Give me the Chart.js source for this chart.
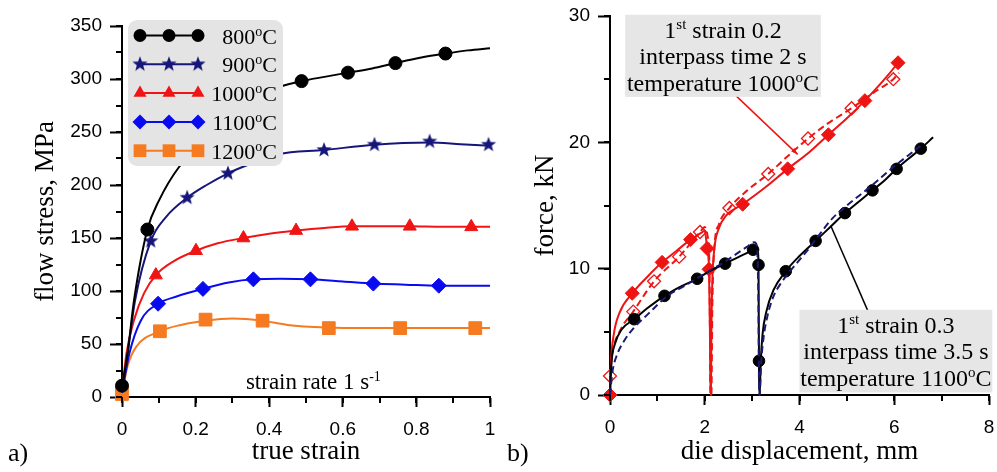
<!DOCTYPE html>
<html>
<head>
<meta charset="utf-8">
<script src="https://cdn.jsdelivr.net/npm/chart.js@4.4.1/dist/chart.umd.min.js"></script>
<style>
  html, body { margin: 0; padding: 0; background: #fff; }
  #wrap { position: relative; width: 997px; height: 472px; }
  canvas { position: absolute; top: 0; }
  #chartA { left: 0; }
  #chartB { left: 500px; }
</style>
</head>
<body>
<div id="wrap">
  <canvas id="chartA" width="500" height="472"></canvas>
  <canvas id="chartB" width="497" height="472"></canvas>
</div>
<script>
// ---------- panel a) flow stress vs true strain ----------
const tempLabels = ['800', '900', '1000', '1100', '1200'];

const strain800 = [0, 0.015, 0.033, 0.069, 0.1, 0.155, 0.25, 0.35, 0.417, 0.488, 0.55, 0.614, 0.68, 0.743, 0.81, 0.879, 0.94, 1.0];
const stress800 = [10, 41, 92, 158, 185, 217, 250, 275, 291, 298, 302, 306, 310, 315, 320, 324, 327, 329];
const marks800 = [[0, 10.7], [0.069, 158], [0.488, 298], [0.614, 306], [0.743, 315], [0.879, 324]];

const strain900 = [0, 0.015, 0.035, 0.078, 0.12, 0.177, 0.23, 0.288, 0.35, 0.425, 0.549, 0.686, 0.836, 0.92, 1.0];
const stress900 = [5, 40, 90, 147, 170, 188, 200, 211, 220, 229, 233, 238, 240, 238.5, 237];
const marks900 = [[0.078, 147], [0.177, 188], [0.288, 211], [0.549, 233], [0.686, 238], [0.836, 241], [0.996, 238]];

const strain1000 = [0, 0.012, 0.033, 0.06, 0.092, 0.14, 0.201, 0.26, 0.33, 0.4, 0.473, 0.55, 0.625, 0.7, 0.782, 0.87, 0.949, 1.0];
const stress1000 = [5, 41, 73, 98, 115, 128, 138, 145, 150, 154, 157, 159.5, 161, 161, 161, 160.5, 160.5, 160.5];
const marks1000 = [[0.092, 115], [0.201, 138], [0.33, 150], [0.473, 157], [0.625, 161], [0.782, 161], [0.949, 160.5]];

const strain1100 = [0, 0.02, 0.051, 0.098, 0.15, 0.22, 0.29, 0.357, 0.43, 0.512, 0.6, 0.683, 0.77, 0.861, 0.93, 1.0];
const stress1100 = [4, 41, 72, 88, 95, 102, 108, 111, 111.5, 111, 109, 107, 106, 105, 105, 105];
const marks1100 = [[0.098, 88], [0.22, 102], [0.357, 111], [0.512, 111], [0.683, 107], [0.861, 105]];

const strain1200 = [0, 0.015, 0.038, 0.103, 0.16, 0.227, 0.3, 0.382, 0.45, 0.562, 0.65, 0.756, 0.86, 0.96, 1.0];
const stress1200 = [3, 29, 47, 62, 68, 72, 74, 72, 68, 65.5, 65, 65, 65, 65, 65];
const marks1200 = [[0, 2.8], [0.103, 62], [0.227, 73], [0.382, 72], [0.562, 65], [0.756, 65], [0.96, 65]];

const strainTicks = [0, 0.2, 0.4, 0.6, 0.8, 1];
const stressTicks = [0, 50, 100, 150, 200, 250, 300, 350];

// ---------- panel b) force vs die displacement ----------
const disp1000 = [0, 0.02, 0.08, 0.2, 0.47, 0.8, 1.1, 1.4, 1.7, 1.95, 2.0, 2.05, 2.09, 2.11, 2.12, 2.13, 2.14, 2.16, 2.2, 2.3, 2.45, 2.8, 3.3, 3.75, 4.2, 4.61, 5.0, 5.38, 5.75, 6.08, 6.12];
const force1000 = [0, 2.5, 4.8, 6.5, 8.05, 9.4, 10.5, 11.4, 12.3, 12.9, 13.0, 11.6, 9.95, 5, 0, 0, 5, 9, 11.5, 13.2, 14.2, 15.1, 16.5, 17.9, 19.2, 20.6, 21.9, 23.3, 24.8, 26.3, 26.5];
const marks1000b = [[0, 0], [0.47, 8.05], [1.1, 10.5], [1.7, 12.3], [2.05, 11.6], [2.09, 9.95], [2.8, 15.1], [3.75, 17.9], [4.61, 20.6], [5.38, 23.3], [6.08, 26.3]];

const disp1000m = [0, 0.05, 0.2, 0.49, 0.93, 1.46, 1.9, 2.0, 2.06, 2.1, 2.12, 2.14, 2.16, 2.2, 2.3, 2.52, 2.9, 3.34, 3.75, 4.18, 4.6, 5.1, 5.55, 5.98, 6.1];
const force1000m = [1.5, 3.3, 5.0, 6.6, 9.0, 10.95, 12.9, 13.3, 12.6, 10, 0, 0, 7, 11.5, 13.5, 14.8, 16.2, 17.5, 18.9, 20.3, 21.5, 22.7, 23.9, 25.0, 25.5];
const marks1000m = [[0, 1.5], [0.49, 6.6], [0.93, 9.0], [1.46, 10.95], [1.9, 12.9], [2.52, 14.8], [3.34, 17.5], [4.18, 20.3], [5.1, 22.7], [5.98, 25.0]];

const disp1100 = [0, 0.03, 0.1, 0.25, 0.51, 0.8, 1.15, 1.5, 1.84, 2.1, 2.43, 2.7, 2.95, 3.02, 3.08, 3.12, 3.135, 3.14, 3.145, 3.15, 3.16, 3.18, 3.22, 3.3, 3.45, 3.71, 4.0, 4.34, 4.65, 4.96, 5.25, 5.54, 5.8, 6.05, 6.3, 6.56, 6.82];
const force1100 = [0, 2.5, 4.0, 5.2, 6.0, 6.9, 7.85, 8.6, 9.2, 9.8, 10.4, 10.9, 11.35, 11.5, 11.8, 11.4, 10.3, 6, 2.7, 0, 0, 2.5, 4.8, 6.6, 8.3, 9.8, 11.0, 12.2, 13.3, 14.4, 15.3, 16.2, 17.0, 17.9, 18.7, 19.5, 20.4];
const marks1100b = [[0.51, 6.0], [1.15, 7.85], [1.84, 9.2], [2.43, 10.4], [3.02, 11.5], [3.135, 10.3], [3.145, 2.7], [3.71, 9.8], [4.34, 12.2], [4.96, 14.4], [5.54, 16.2], [6.05, 17.9], [6.56, 19.5]];

const disp1100m = [0, 0.05, 0.15, 0.3, 0.5, 0.8, 1.2, 1.6, 2.0, 2.4, 2.88, 3.05, 3.1, 3.13, 3.15, 3.16, 3.19, 3.24, 3.32, 3.45, 3.6, 3.8, 4.0, 4.2, 4.4, 4.7, 5.0, 5.5, 6.0, 6.55];
const force1100m = [0, 1.8, 3.2, 4.3, 5.3, 6.4, 7.8, 8.7, 9.6, 10.5, 11.7, 12.1, 11.8, 8, 0, 0, 2.5, 4.5, 6.2, 7.8, 8.8, 9.8, 10.7, 11.6, 12.6, 14.0, 15.0, 16.5, 18.1, 19.7];

const dispTicks = [0, 2, 4, 6, 8];
const forceTicks = [0, 10, 20, 30];

const noteB1 = [[['1'], ['st', 1], [' strain 0.2']], [['interpass time 2 s']], [['temperature 1000'], ['o', 1], ['C']]];
const noteB2 = [[['1'], ['st', 1], [' strain 0.3']], [['interpass time 3.5 s']], [['temperature 1100'], ['o', 1], ['C']]];

// ---------- helpers ----------
const SERIF = '"Liberation Serif", "Times New Roman", serif';
const SANS = '"Liberation Sans", Arial, sans-serif';
Chart.defaults.color = '#000';
Chart.defaults.font.family = SANS;

const pts = (xs, ys) => xs.map((x, i) => ({ x, y: ys[i] }));
const pairs = arr => arr.map(([x, y]) => ({ x, y }));

function starImage(r, color) {
  const c = document.createElement('canvas');
  c.width = c.height = 2 * r + 2;
  const g = c.getContext('2d');
  g.fillStyle = color;
  g.beginPath();
  for (let i = 0; i < 10; i++) {
    const rr = i % 2 ? r * 0.42 : r;
    const a = -Math.PI / 2 + i * Math.PI / 5;
    g.lineTo(r + 1 + rr * Math.cos(a), r + 1 + rr * Math.sin(a));
  }
  g.closePath();
  g.fill();
  return c;
}

function richText(ctx, parts, x, y, align, size) {
  const f = sup => (sup ? Math.round(size * 0.62) : size) + 'px ' + SERIF;
  let w = 0;
  for (const [t, sup] of parts) { ctx.font = f(sup); w += ctx.measureText(t).width; }
  let cx = align === 'center' ? x - w / 2 : align === 'right' ? x - w : x;
  ctx.textAlign = 'left';
  ctx.textBaseline = 'alphabetic';
  for (const [t, sup] of parts) {
    ctx.font = f(sup);
    ctx.fillText(t, cx, sup ? y - size * 0.36 : y);
    cx += ctx.measureText(t).width;
  }
}

function marker(ctx, style, x, y, r, color) {
  ctx.fillStyle = color;
  ctx.beginPath();
  if (style instanceof HTMLCanvasElement) {
    ctx.drawImage(style, x - style.width / 2, y - style.height / 2);
    return;
  } else if (style === 'circle') {
    ctx.arc(x, y, r, 0, Math.PI * 2);
  } else if (style === 'triangle') {
    for (let i = 0; i < 3; i++) {
      const a = -Math.PI / 2 + i * 2 * Math.PI / 3;
      ctx.lineTo(x + r * Math.cos(a), y + r * Math.sin(a));
    }
  } else if (style === 'rectRot') {
    ctx.moveTo(x - r, y); ctx.lineTo(x, y - r); ctx.lineTo(x + r, y); ctx.lineTo(x, y + r);
  } else {
    const s = Math.SQRT1_2 * r;
    ctx.rect(x - s, y - s, 2 * s, 2 * s);
  }
  ctx.closePath();
  ctx.fill();
}

const minorTicks = {
  id: 'minorTicks',
  afterDraw(chart, args, opts) {
    const { ctx } = chart;
    const xs = chart.scales.x, ys = chart.scales.y, a = chart.chartArea;
    ctx.save();
    ctx.strokeStyle = '#000';
    ctx.lineWidth = 2;
    ctx.beginPath();
    for (let v = xs.min; v <= xs.max + 1e-9; v += opts.x) {
      const p = Math.round(xs.getPixelForValue(v));
      ctx.moveTo(p, a.bottom); ctx.lineTo(p, a.bottom + opts.len);
    }
    for (let v = ys.min; v <= ys.max + 1e-9; v += opts.y) {
      const p = Math.round(ys.getPixelForValue(v));
      ctx.moveTo(a.left, p); ctx.lineTo(a.left - opts.len, p);
    }
    ctx.stroke();
    ctx.restore();
  }
};

function axisOpts(min, max, tickList, titleText, fitSize, isX) {
  return {
    type: 'linear', min, max,
    afterBuildTicks: s => { s.ticks = tickList.map(v => ({ value: v })); },
    ticks: {
      font: { size: 19 }, color: '#000', padding: isX ? 11 : 8, maxRotation: 0, autoSkip: false,
      callback: v => String(v)
    },
    grid: { drawOnChartArea: false, tickLength: isX ? 10 : 12, tickWidth: 2, tickColor: '#000' },
    border: { color: '#000', width: 2 },
    title: {
      display: true, text: titleText, color: '#000',
      font: { family: SERIF, size: 27 },
      padding: isX ? { top: 0, bottom: 4 } : { top: 30, bottom: 0 }
    },
    afterFit: s => {
      // chart area is set by layout padding only, labels may overhang it
      s.paddingLeft = s.paddingRight = s.paddingTop = s.paddingBottom = 0;
      if (isX) s.height = fitSize; else s.width = fitSize;
    }
  };
}

// ---------- chart a ----------
const seriesA = [
  { label: tempLabels[0], color: '#000000', style: 'circle', r: 6.5, x: strain800, y: stress800, marks: marks800 },
  { label: tempLabels[1], color: '#16167a', style: starImage(8, '#16167a'), r: 8, x: strain900, y: stress900, marks: marks900 },
  { label: tempLabels[2], color: '#f01414', style: 'triangle', r: 7.5, x: strain1000, y: stress1000, marks: marks1000 },
  { label: tempLabels[3], color: '#0a0af0', style: 'rectRot', r: 7.5, x: strain1100, y: stress1100, marks: marks1100 },
  { label: tempLabels[4], color: '#f57a20', style: 'rect', r: 9, x: strain1200, y: stress1200, marks: marks1200 }
];

const datasetsA = [];
seriesA.forEach(s => {
  datasetsA.push({
    label: s.label, data: pts(s.x, s.y), showLine: true, borderColor: s.color, borderWidth: 2,
    pointRadius: 0, cubicInterpolationMode: 'monotone', clip: false
  });
  datasetsA.push({
    label: s.label + ' markers', data: pairs(s.marks), showLine: false, pointStyle: s.style,
    pointRadius: s.r, backgroundColor: s.color, borderColor: s.color, borderWidth: 1, clip: false
  });
});

const legendA = {
  id: 'legendA',
  afterDatasetsDraw(chart) {
    const { ctx } = chart;
    const a = chart.chartArea;
    const bx = a.left + 6, by = a.top - 6, bw = 155, bh = 146, rad = 9;
    ctx.save();
    ctx.fillStyle = '#e4e4e4';
    ctx.beginPath();
    ctx.moveTo(bx + rad, by);
    ctx.arcTo(bx + bw, by, bx + bw, by + bh, rad);
    ctx.arcTo(bx + bw, by + bh, bx, by + bh, rad);
    ctx.arcTo(bx, by + bh, bx, by, rad);
    ctx.arcTo(bx, by, bx + bw, by, rad);
    ctx.closePath();
    ctx.fill();
    seriesA.forEach((s, i) => {
      const cy = by + 15.5 + i * 28.8;
      const x0 = a.left + 18, x1 = a.left + 76;
      ctx.strokeStyle = s.color;
      ctx.lineWidth = 2;
      ctx.beginPath(); ctx.moveTo(x0, cy); ctx.lineTo(x1, cy); ctx.stroke();
      [x0, (x0 + x1) / 2, x1].forEach(mx => marker(ctx, s.style, mx, cy, s.r, s.color));
      ctx.fillStyle = '#000';
      richText(ctx, [[s.label], ['o', 1], ['C']], a.left + 155, cy + 8, 'right', 22);
    });
    ctx.fillStyle = '#000';
    richText(ctx, [['strain rate 1 s'], ['-1', 1]], chart.scales.x.getPixelForValue(0.52), chart.scales.y.getPixelForValue(7.5), 'center', 23);
    richText(ctx, [['a)']], 8, 461, 'left', 26);
    ctx.restore();
  }
};

new Chart(document.getElementById('chartA'), {
  type: 'scatter',
  data: { datasets: datasetsA },
  options: {
    responsive: false, animation: false,
    layout: { padding: { top: 26, right: 5, left: 0, bottom: 0 } },
    plugins: { legend: { display: false }, tooltip: { enabled: false }, minorTicks: { x: 0.1, y: 25, len: 6 } },
    scales: {
      x: axisOpts(0, 1, strainTicks, 'true strain', 75, true),
      y: axisOpts(0, 350, stressTicks, 'flow stress, MPa', 122, false)
    }
  },
  plugins: [minorTicks, legendA]
});

// ---------- chart b ----------
const RED = '#ee1414', NAVY = '#1a1a70';
const datasetsB = [
  { label: '1100 model', data: pts(disp1100m, force1100m), showLine: true, borderColor: NAVY, borderWidth: 2,
    borderDash: [7, 4], pointRadius: 0, cubicInterpolationMode: 'monotone', clip: false },
  { label: '1100 measured', data: pts(disp1100, force1100), showLine: true, borderColor: '#000', borderWidth: 2,
    pointRadius: 0, cubicInterpolationMode: 'monotone', clip: false },
  { label: '1100 marks', data: pairs(marks1100b), showLine: false, pointStyle: 'circle', pointRadius: 5.8,
    backgroundColor: '#000', borderColor: '#000', clip: false },
  { label: '1000 model', data: pts(disp1000m, force1000m), showLine: true, borderColor: RED, borderWidth: 2,
    borderDash: [7, 4], pointRadius: 0, cubicInterpolationMode: 'monotone', clip: false },
  { label: '1000 model marks', data: pairs(marks1000m), showLine: false, pointStyle: 'rectRot', pointRadius: 6.5,
    backgroundColor: 'rgba(255,255,255,0)', borderColor: RED, borderWidth: 1.3, clip: false },
  { label: '1000 measured', data: pts(disp1000, force1000), showLine: true, borderColor: RED, borderWidth: 2,
    pointRadius: 0, cubicInterpolationMode: 'monotone', clip: false },
  { label: '1000 marks', data: pairs(marks1000b), showLine: false, pointStyle: 'rectRot', pointRadius: 7,
    backgroundColor: RED, borderColor: RED, clip: false }
];

const notesB = {
  id: 'notesB',
  afterDatasetsDraw(chart) {
    const { ctx } = chart;
    const xs = chart.scales.x, ys = chart.scales.y;
    const X = v => xs.getPixelForValue(v), Y = v => ys.getPixelForValue(v);
    ctx.save();
    // connector lines
    ctx.lineWidth = 1.5;
    ctx.strokeStyle = RED;
    const ax0 = X(2.53), ay0 = Y(24.15), ax1 = X(3.96), ay1 = Y(19.05);
    ctx.beginPath(); ctx.moveTo(ax0, ay0); ctx.lineTo(ax1, ay1); ctx.stroke();
    const ang = Math.atan2(ay1 - ay0, ax1 - ax0);
    ctx.fillStyle = RED;
    ctx.beginPath();
    ctx.moveTo(ax1, ay1);
    ctx.lineTo(ax1 - 7 * Math.cos(ang - 0.35), ay1 - 7 * Math.sin(ang - 0.35));
    ctx.lineTo(ax1 - 7 * Math.cos(ang + 0.35), ay1 - 7 * Math.sin(ang + 0.35));
    ctx.closePath(); ctx.fill();
    ctx.strokeStyle = '#000';
    ctx.beginPath(); ctx.moveTo(X(4.66), Y(13.4)); ctx.lineTo(X(5.45), Y(6.6)); ctx.stroke();
    // boxes
    const box = (x0, y0, x1, y1, lines) => {
      const l = X(x0), t = Y(y0), r = X(x1), b = Y(y1);
      ctx.fillStyle = '#e6e6e6';
      ctx.fillRect(l, t, r - l, b - t);
      ctx.fillStyle = '#000';
      lines.forEach((ln, i) => richText(ctx, ln, (l + r) / 2, t + 23 + i * 26.6, 'center', 24));
    };
    box(0.32, 30.1, 4.45, 23.6, noteB1);
    box(4.0, 6.75, 8.07, 0.2, noteB2);
    richText(ctx, [['b)']], 7, 461, 'left', 26);
    ctx.restore();
  }
};

new Chart(document.getElementById('chartB'), {
  type: 'scatter',
  data: { datasets: datasetsB },
  options: {
    responsive: false, animation: false,
    layout: { padding: { top: 16, right: 8, left: 0, bottom: 0 } },
    plugins: { legend: { display: false }, tooltip: { enabled: false }, minorTicks: { x: 1, y: 5, len: 6 } },
    scales: {
      x: axisOpts(0, 8, dispTicks, 'die displacement, mm', 77, true),
      y: axisOpts(0, 30, forceTicks, 'force, kN', 110, false)
    }
  },
  plugins: [minorTicks, notesB]
});
</script>
</body>
</html>
